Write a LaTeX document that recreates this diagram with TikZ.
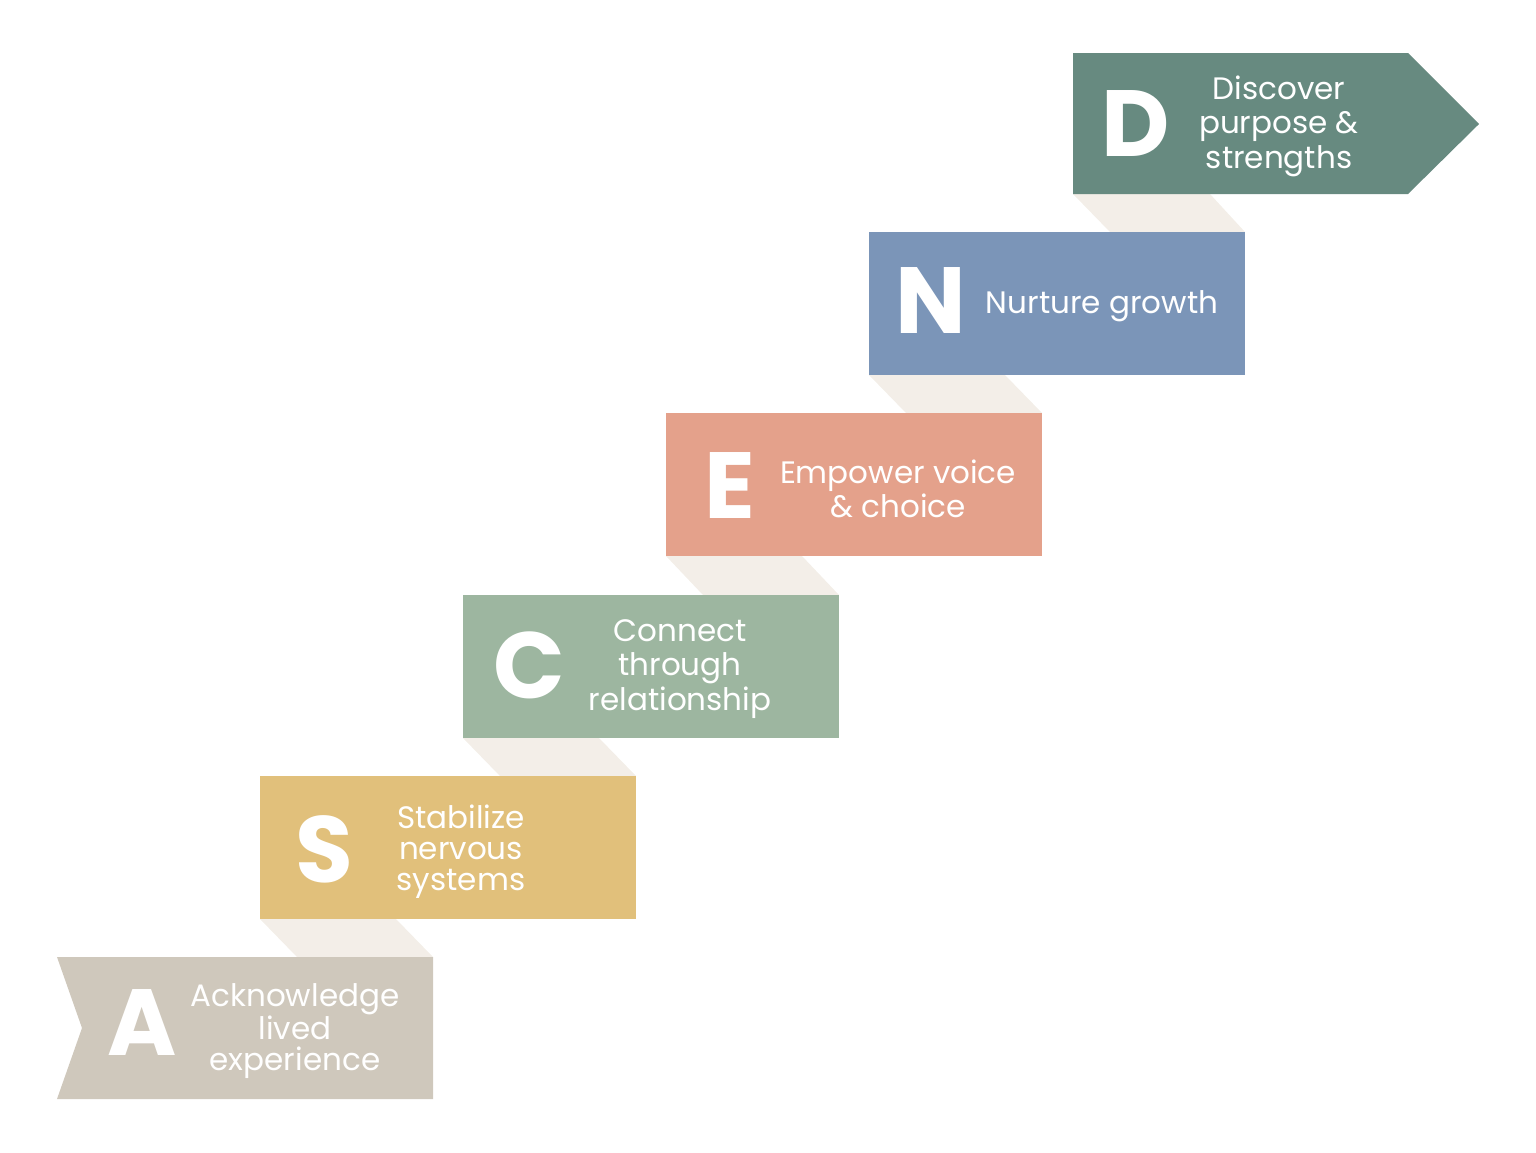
\documentclass[tikz,border=0pt]{standalone}
\usepackage{fontspec}
\setmainfont{Poppins}

\definecolor{colD}{HTML}{678A80}
\definecolor{colN}{HTML}{7B95B8}
\definecolor{colE}{HTML}{E4A18B}
\definecolor{colC}{HTML}{9DB6A0}
\definecolor{colS}{HTML}{E1C07B}
\definecolor{colA}{HTML}{CFC8BC}
\definecolor{colFold}{HTML}{F3EEE8}

\tikzset{
  letter/.style={anchor=center, inner sep=0pt, text=white, font=\fontsize{94}{94}\selectfont\bfseries},
  steptext/.style={anchor=center, inner sep=0pt, text=white, align=center, font=\fontsize{31}{34.5}\selectfont},
}

\begin{document}
\begin{tikzpicture}[x=1pt, y=-1pt]

  %% ════ 折痕（台阶之间的浅色斜面）════
  \fill[colFold] (1073,194) -- (1210,194) -- (1245,232) -- (1110,232) -- cycle;
  \fill[colFold] (869,375) -- (1005,375) -- (1042,413) -- (906,413) -- cycle;
  \fill[colFold] (666,556) -- (802,556) -- (839,595) -- (703,595) -- cycle;
  \fill[colFold] (463,738) -- (599,738) -- (636,776) -- (500,776) -- cycle;
  \fill[colFold] (260,919) -- (396,919) -- (433,957) -- (297,957) -- cycle;

  %% ════ 台阶色块 ════
  \fill[colD] (1073,53) -- (1408,53) -- (1479,124) -- (1408,194) -- (1073,194) -- cycle;
  \fill[colN] (869,232) rectangle (1245,375);
  \fill[colE] (666,413) rectangle (1042,556);
  \fill[colC] (463,595) rectangle (839,738);
  \fill[colS] (260,776) rectangle (636,919);
  \fill[colA] (57,957) -- (433,957) -- (433,1099) -- (57,1099) -- (82,1028) -- cycle;

  %% ════ 大字母 ════
  \node[letter] (letD) at (1136,124) {D};
  \node[letter] (letN) at (931,300) {N};
  \node[letter] (letE) at (730,485) {E};
  \node[letter] (letC) at (529,665) {C};
  \node[letter] (letS) at (324,849) {S};
  \node[letter] (letA) at (142,1022) {A};

  %% ════ 说明文字 ════
  \node[steptext] (txtD) at (1279,126) {Discover\\purpose \&\\strengths};
  \node[steptext] (txtN) at (1102,306) {Nurture growth};
  \node[steptext] (txtE) at (898,489) {Empower voice\\\& choice};
  \node[steptext] (txtC) at (680,669) {Connect\\through\\relationship};
  \node[steptext, font=\fontsize{31}{31}\selectfont] (txtS) at (461,852) {Stabilize\\nervous\\systems};
  \node[steptext, font=\fontsize{31}{30.5}\selectfont] (txtA) at (295,1031) {Acknowledge\\lived\\experience};

  % 钉死画布
  \pgfresetboundingbox
  \path[use as bounding box] (0,0) rectangle (1536,1152);
\end{tikzpicture}
\end{document}
